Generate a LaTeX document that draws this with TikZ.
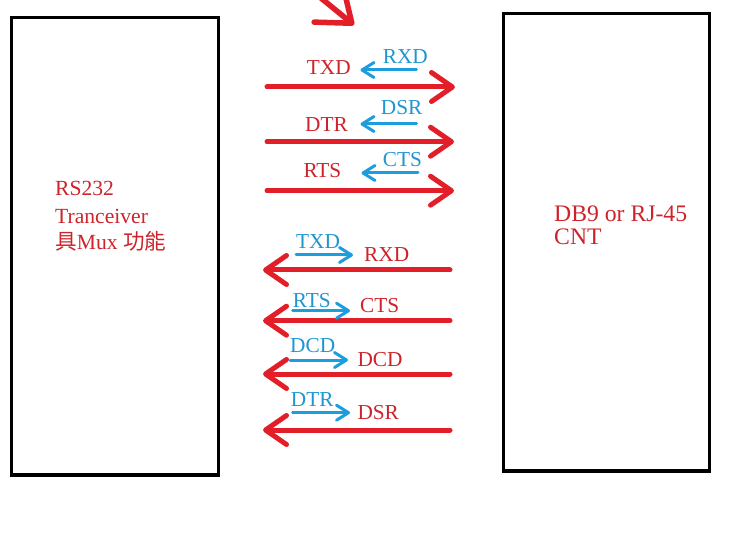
\documentclass[tikz,border=0pt]{standalone}
\usepackage{fontspec}
\setmainfont{Liberation Serif}
\newfontfamily\cjk{Noto Sans CJK TC}
\usetikzlibrary{arrows.meta}
\definecolor{rline}{RGB}{226,30,40}
\definecolor{rtext}{RGB}{205,35,42}
\definecolor{bline}{RGB}{28,158,222}
\definecolor{btext}{RGB}{30,150,210}
\tikzset{
  boxst/.style={draw=black,line width=3.2pt,rectangle,inner sep=0pt},
  redarr/.style={draw=rline,line width=5pt,line cap=round,-{Straight Barb[length=21pt,width=29pt,round]}},
  bigarr/.style={draw=rline,line width=5.5pt,line cap=round,-{Straight Barb[length=30pt,width=46pt,round]}},
  bluearr/.style={draw=bline,line width=3pt,line cap=round,-{Straight Barb[length=12pt,width=15pt,round]}},
  rlab/.style={anchor=base west,inner sep=0pt,text=rtext,font=\fontsize{21.3}{25}\selectfont},
  blab/.style={anchor=base west,inner sep=0pt,text=btext,font=\fontsize{21.3}{25}\selectfont},
}
\begin{document}
\begin{tikzpicture}[x=1pt,y=-1pt]
\useasboundingbox (0,0) rectangle (732,559);
% boxes
\node[boxst,minimum width=207pt,minimum height=457.5pt] (lbox) at (115,246.25) {};
\node[boxst,minimum width=206pt,minimum height=457.3pt] (rbox) at (606.5,242.35) {};
% box texts
\node[rlab,font=\fontsize{21.6}{25}\selectfont] (l1) at (55,196) {RS232};
\node[rlab,font=\fontsize{21.6}{25}\selectfont] (l2) at (55,223.5) {Tranceiver};
\node[rlab,font=\fontsize{21.6}{25}\selectfont] (l3) at (55,250) {{\cjk 具}Mux {\cjk 功能}};
\node[rlab,font=\fontsize{23.7}{27}\selectfont] (r1) at (554,221.7) {DB9 or RJ-45};
\node[rlab,font=\fontsize{23.7}{27}\selectfont] (r2) at (554,245) {CNT};
% partial arrow at top
\coordinate (ps) at (316,-6);
\coordinate (pe) at (354,25);
\draw[bigarr] (ps) -- (pe);
% top group: red right arrows
\coordinate (a1s) at (267,87);   \coordinate (a1e) at (455,87);
\coordinate (a2s) at (267,141.7); \coordinate (a2e) at (454,141.7);
\coordinate (a3s) at (267,190.7); \coordinate (a3e) at (454,190.7);
\draw[redarr] (a1s) -- (a1e);
\draw[redarr] (a2s) -- (a2e);
\draw[redarr] (a3s) -- (a3e);
% top group: blue left arrows
\coordinate (b1s) at (416.5,70);  \coordinate (b1e) at (360.5,70);
\coordinate (b2s) at (416.5,124); \coordinate (b2e) at (360.5,124);
\coordinate (b3s) at (418,173);   \coordinate (b3e) at (361.5,173);
\draw[bluearr] (b1s) -- (b1e);
\draw[bluearr] (b2s) -- (b2e);
\draw[bluearr] (b3s) -- (b3e);
% top group labels
\node[rlab] (t1) at (306.7,75) {TXD};
\node[blab] (u1) at (382.7,63.3) {RXD};
\node[rlab] (t2) at (305,131.7) {DTR};
\node[blab] (u2) at (380.7,115) {DSR};
\node[rlab] (t3) at (303.3,177.3) {RTS};
\node[blab] (u3) at (382.7,166.7) {CTS};
% bottom group: red left arrows
\coordinate (c1s) at (450,270);   \coordinate (c1e) at (263,270);
\coordinate (c2s) at (450,320.7); \coordinate (c2e) at (263,320.7);
\coordinate (c3s) at (450,374);   \coordinate (c3e) at (263,374);
\coordinate (c4s) at (450,430);   \coordinate (c4e) at (263,430);
\draw[redarr] (c1s) -- (c1e);
\draw[redarr] (c2s) -- (c2e);
\draw[redarr] (c3s) -- (c3e);
\draw[redarr] (c4s) -- (c4e);
% bottom group: blue right arrows
\coordinate (d1s) at (296,255);   \coordinate (d1e) at (353,255);
\coordinate (d2s) at (292.7,310.7); \coordinate (d2e) at (350,310.7);
\coordinate (d3s) at (290,360);   \coordinate (d3e) at (348,360);
\coordinate (d4s) at (292.7,412.7); \coordinate (d4e) at (350,412.7);
\draw[bluearr] (d1s) -- (d1e);
\draw[bluearr] (d2s) -- (d2e);
\draw[bluearr] (d3s) -- (d3e);
\draw[bluearr] (d4s) -- (d4e);
% bottom group labels
\node[blab] (v1) at (296,248.3) {TXD};
\node[rlab] (w1) at (364,261.7) {RXD};
\node[blab] (v2) at (292.7,307.3) {RTS};
\node[rlab] (w2) at (360,312.7) {CTS};
\node[blab] (v3) at (290,352.7) {DCD};
\node[rlab] (w3) at (357.3,366.7) {DCD};
\node[blab] (v4) at (290.7,406.7) {DTR};
\node[rlab] (w4) at (357.3,419.3) {DSR};
\end{tikzpicture}
\end{document}
